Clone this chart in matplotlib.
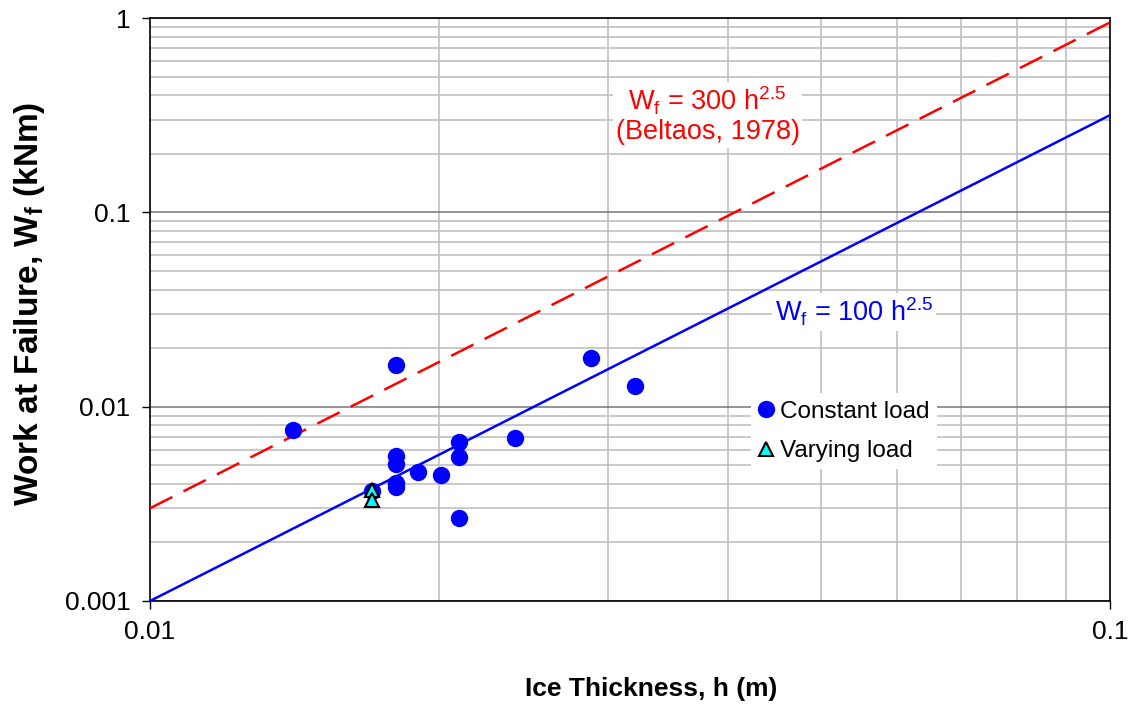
import numpy as np
import matplotlib
matplotlib.use("Agg")
import matplotlib.pyplot as plt
from matplotlib.ticker import LogLocator, FixedLocator, FixedFormatter, NullFormatter

plt.rcParams['font.family'] = ['Liberation Sans', 'DejaVu Sans']
plt.rcParams['mathtext.fontset'] = 'custom'
plt.rcParams['mathtext.rm'] = 'Liberation Sans'
plt.rcParams['mathtext.it'] = 'Liberation Sans'
plt.rcParams['mathtext.bf'] = 'Liberation Sans:bold'
plt.rcParams['mathtext.default'] = 'regular'

# Data
const_h = [0.01409, 0.01804, 0.01804, 0.01804, 0.01804, 0.01804, 0.01901, 0.02009,
           0.02099, 0.02099, 0.02099, 0.0240, 0.0288, 0.0320, 0.01702]
const_W = [0.00759, 0.01639, 0.00557, 0.00507, 0.00405, 0.00386, 0.00463, 0.00445,
           0.00660, 0.00553, 0.00266, 0.00687, 0.0178, 0.01277, 0.00370]
vary_h = [0.01702, 0.01702]
vary_W = [0.00372, 0.00331]
h_line = [0.01, 0.1]
coef_beltaos = 300
coef_fit = 100
exponent = 2.5

fig = plt.figure(figsize=(11.31, 7.09), dpi=100)
ax = fig.add_axes([150/1131, 1-601/709, 960/1131, 583/709])
ax.set_xscale('log')
ax.set_yscale('log')
ax.set_xlim(0.01, 0.1)
ax.set_ylim(0.001, 1)

# grid
ax.yaxis.set_major_locator(FixedLocator([0.001, 0.01, 0.1, 1]))
ax.yaxis.set_major_formatter(FixedFormatter(['0.001', '0.01', '0.1', '1']))
ax.yaxis.set_minor_locator(LogLocator(base=10, subs=np.arange(2, 10)))
ax.yaxis.set_minor_formatter(NullFormatter())
ax.xaxis.set_major_locator(FixedLocator([0.01, 0.1]))
ax.xaxis.set_major_formatter(FixedFormatter(['0.01', '0.1']))
ax.xaxis.set_minor_locator(LogLocator(base=10, subs=np.arange(2, 10)))
ax.xaxis.set_minor_formatter(NullFormatter())
ax.grid(True, which='major', axis='y', color='#808080', lw=1.2)
ax.grid(True, which='minor', axis='both', color='#c0c0c0', lw=1.2)
ax.tick_params(which='minor', length=0)
ax.tick_params(which='major', length=6, direction='out', labelsize=19, pad=8, width=1)
ax.set_axisbelow(True)
for s in ax.spines.values():
    s.set_color('black')
    s.set_linewidth(1.2)

hl = np.array(h_line)
ax.plot(hl, coef_beltaos * hl**exponent, color='#ff0000', lw=1.8, dashes=(10, 5), zorder=3)
ax.plot(hl, coef_fit * hl**exponent, color='#0000ff', lw=1.8, zorder=3)

ax.plot(const_h, const_W, 'o', color='#0000ff', ms=11.5, mec='#0000ff', ls='none',
        label='Constant load', zorder=4)
ax.plot(vary_h, vary_W, '^', color='#00ffff', ms=10, mec='black', mew=1.5, ls='none',
        label='Varying load', zorder=5)

leg = ax.legend(loc='upper left', bbox_to_anchor=(0.6135, 0.377), frameon=True,
                fontsize=17.5, handlelength=0.6, handletextpad=0.3, borderpad=0.3,
                labelspacing=0.72, markerscale=1.0)
leg.get_frame().set_facecolor('white')
leg.get_frame().set_edgecolor('none')
leg.get_frame().set_alpha(1)
leg.get_frame().set_boxstyle('square', pad=0)

bbox = dict(facecolor='white', edgecolor='none', pad=2)
ax.text(0.581, 0.8336, r'W$_{f}$ = 300 h$^{2.5}$' + '\n(Beltaos, 1978)', transform=ax.transAxes,
        ha='center', va='center', color='#ff0000', fontsize=19.5, linespacing=1.1, bbox=bbox)
ax.text(0.7335, 0.4960, r'W$_{f}$ = 100 h$^{2.5}$', transform=ax.transAxes,
        ha='center', va='center', color='#0000ff', fontsize=19.5, bbox=bbox)

fig.text(651/1131, 1-689/709, 'Ice Thickness, h (m)', ha='center', va='center',
         fontsize=19, fontweight='bold')
fig.text(30/1131, 1-304/709, r'Work at Failure, W$_{\mathbf{f}}$ (kNm)', ha='center', va='center',
         rotation=90, fontsize=24, fontweight='bold')

fig.savefig('out.png', dpi=100)
